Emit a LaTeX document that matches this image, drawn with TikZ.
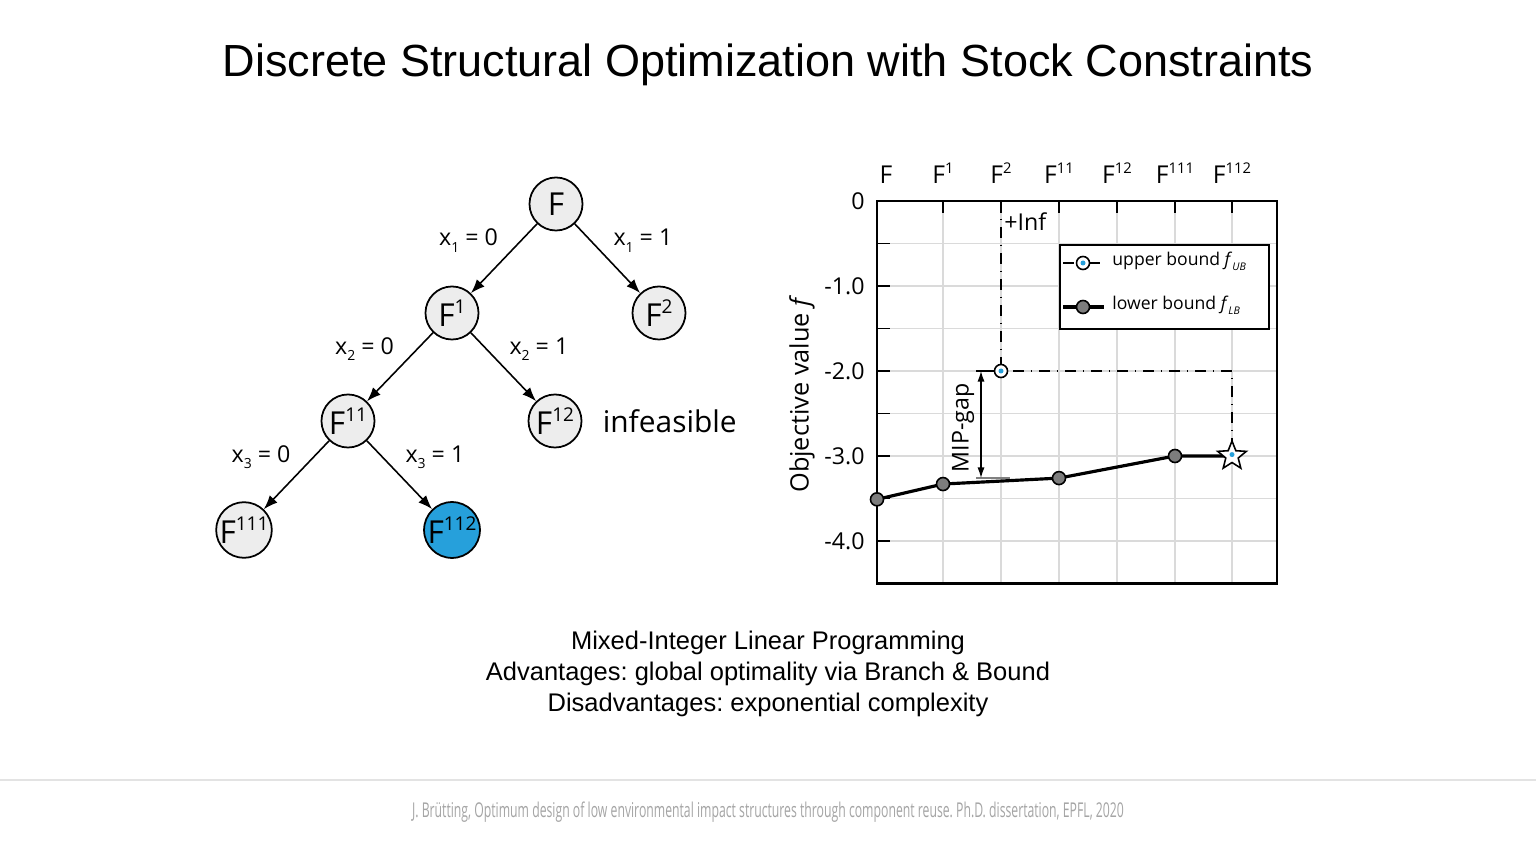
\documentclass[tikz,border=0pt]{standalone}
\usepackage{fontspec}
\usepackage{graphicx}
\setmainfont{Liberation Sans}
\newfontfamily\osans{Open Sans}
\newfontfamily\footfont[FakeStretch=0.6]{Open Sans}
\usetikzlibrary{arrows.meta, shapes.geometric, positioning, math}
\definecolor{myblue}{RGB}{38,160,219}
\definecolor{nodegray}{RGB}{237,237,237}
\definecolor{gridgray}{RGB}{218,218,218}
\definecolor{markgray}{RGB}{125,125,125}
\definecolor{footgray}{RGB}{165,165,165}
\newcommand{\supr}[1]{\raisebox{0.42em}{\scalebox{0.6}{#1}}}
\newcommand{\subr}[1]{\raisebox{-0.28em}{\scalebox{0.6}{#1}}}
\frenchspacing

\begin{document}
\begin{tikzpicture}[x=0.01cm, y=-0.01cm,
  treenode/.style={circle, draw, line width=0.5pt, fill=nodegray, minimum size=0.53cm, inner sep=0pt, font=\osans\fontsize{9}{9}\selectfont},
  branch/.style={-{Latex[length=4pt,width=3pt]}, line width=0.45pt},
  branchlab/.style={font=\osans\fontsize{6.6}{6.6}\selectfont, inner sep=1.5pt},
  gridline/.style={gridgray, line width=0.4pt},
  ubline/.style={dash dot, line width=0.45pt},
  lbline/.style={line width=0.9pt},
  ubmark/.style={circle, draw, line width=0.45pt, fill=white, minimum size=0.13cm, inner sep=0pt,
    path picture={\fill[myblue] (path picture bounding box.center) circle (0.025cm);}},
  starmark/.style={star, star points=5, star point ratio=2.3, draw, line width=0.45pt, fill=white, minimum size=0.3cm, inner sep=0pt,
    path picture={\fill[myblue] (path picture bounding box.center) circle (0.025cm);}},
  lbmark/.style={circle, draw, line width=0.45pt, fill=markgray, minimum size=0.13cm, inner sep=0pt},
  ticklab/.style={font=\osans\fontsize{6.6}{6.6}\selectfont},
  leglab/.style={font=\osans\fontsize{5}{5}\selectfont, anchor=west},
]
\tikzmath{
\yz=201;
\u=85;
}
\useasboundingbox[fill=white] (0,0) rectangle (1536,864);

% title
\node (title) [anchor=base, font=\fontsize{12.8}{12.8}\selectfont] at (768,77) {Discrete Structural Optimization with Stock Constraints};

% branch and bound tree
\node[treenode] (F) at (556,204) {F};
\node[treenode] (F1) at (452,313) {F\supr{1}};
\node[treenode] (F2) at (659,313) {F\supr{2}};
\node[treenode] (F11) at (348,421) {F\supr{11}};
\node[treenode] (F12) at (555,421) {F\supr{12}};
\node[treenode] (F111) at (244,530) {F\supr{111}};
\node[treenode, fill=myblue] (F112) at (452,530) {F\supr{112}};
\node (infeas) [right=0.08cm of F12, font=\osans\fontsize{8.5}{8.5}\selectfont] {infeasible};

\draw[branch] (F) -- (F1) node[branchlab, midway, anchor=south east] {x\subr{1} = 0};
\draw[branch] (F) -- (F2) node[branchlab, midway, anchor=south west] {x\subr{1} = 1};
\draw[branch] (F1) -- (F11) node[branchlab, midway, anchor=south east] {x\subr{2} = 0};
\draw[branch] (F1) -- (F12) node[branchlab, midway, anchor=south west] {x\subr{2} = 1};
\draw[branch] (F11) -- (F111) node[branchlab, midway, anchor=south east] {x\subr{3} = 0};
\draw[branch] (F11) -- (F112) node[branchlab, midway, anchor=south west] {x\subr{3} = 1};

% chart
\foreach \xc in {943,1001,1059,1117,1175,1232}
  \draw[gridline] (\xc,\yz) -- (\xc,583.5);
\foreach \v in {0.5,1,...,4}
  \draw[gridline] (877,{\yz+\v*\u}) -- (1277,{\yz+\v*\u});
\draw[line width=0.6pt] (877,\yz) rectangle (1277,583.5);
\foreach \xc in {943,1001,1059,1117,1175,1232}
  \draw[line width=0.5pt] (\xc,\yz) -- (\xc,{\yz+12});
\foreach \v in {0.5,1,...,4}
  \draw[line width=0.5pt] (877,{\yz+\v*\u}) -- (890,{\yz+\v*\u});

\foreach \xc/\lab [count=\i] in {886/F, 943/F\supr{1}, 1001/F\supr{2}, 1059/F\supr{11}, 1117/F\supr{12}, 1175/F\supr{111}, 1232/F\supr{112}}
  \node[ticklab, font=\osans\fontsize{7}{7}\selectfont, anchor=base] (cat\i) at (\xc,184) {\lab};
\foreach \v/\lab in {0/0, 1/-1.0, 2/-2.0, 3/-3.0, 4/-4.0}
  \node[ticklab, anchor=east] (ytick\v) at (877,{\yz+\v*\u}) {\lab};
\node[ticklab, font=\osans\fontsize{7.2}{7.2}\selectfont, rotate=90] (ylab) at (802,394) {Objective value \textit{f}};

% bounds
\coordinate (pF) at (877,{\yz+3.51*\u});
\coordinate (pF1) at (943,{\yz+3.33*\u});
\coordinate (pF11) at (1059,{\yz+3.26*\u});
\coordinate (pF111) at (1175,{\yz+3.0*\u});
\coordinate (pF112) at (1232,{\yz+3.0*\u});
\coordinate (ubtop) at (1001,\yz);
\coordinate (pF2) at (1001,{\yz+2*\u});
\coordinate (ubcorner) at (1232,{\yz+2*\u});

\draw[ubline] (ubtop) -- (pF2) -- (ubcorner) -- (pF112);
\draw[lbline] (pF) -- (pF1) -- (pF11) -- (pF111) -- (pF112);
\foreach \p in {pF,pF1,pF11,pF111}
  \node[lbmark] (m\p) at (\p) {};
\node[ubmark] (mpF2) at (pF2) {};
\node[starmark] (mpF112) at (pF112) {};
\node[ticklab, anchor=west] (inf) at (992,222) {+Inf};

% MIP gap
\coordinate (gaptop) at (981,{\yz+2*\u});
\coordinate (gapbot) at (981,478);
\coordinate (gaptopL) at (976,{\yz+2*\u});
\coordinate (gaptopR) at (995,{\yz+2*\u});
\coordinate (gapbotL) at (976,478);
\coordinate (gapbotR) at (1010,478);
\draw[line width=0.35pt] (gaptopL) -- (gaptopR);
\draw[line width=0.35pt, gray] (gapbotL) -- (gapbotR);
\draw[{Latex[length=3pt,width=2pt]}-{Latex[length=3pt,width=2pt]}, line width=0.35pt] (gaptop) -- (gapbot);
\node[ticklab, rotate=90] (gaplab) at (963,428) {MIP-gap};

% legend
\node[draw, fill=white, line width=0.6pt, minimum width=2.09cm, minimum height=0.84cm, anchor=north west, inner sep=0pt] (legend) at (1059,244) {};
\coordinate (lgA) at (1063,263);
\coordinate (lgB) at (1104,263);
\coordinate (lgC) at (1063,307);
\coordinate (lgD) at (1104,307);
\draw[ubline] (lgA) -- (lgB);
\draw[lbline] (lgC) -- (lgD);
\node[ubmark] (lgub) at (1083,263) {};
\node[lbmark] (lglb) at (1083,307) {};
\node[leglab] (lgubtxt) at (1100,261) {upper bound \textit{f}\subr{\textit{UB}}};
\node[leglab] (lglbtxt) at (1100,305) {lower bound \textit{f}\subr{\textit{LB}}};

% summary
\node (summary) [align=center, font=\fontsize{7.25}{8.8}\selectfont] at (768,674) {Mixed-Integer Linear Programming\\Advantages: global optimality via Branch \& Bound\\Disadvantages: exponential complexity};

% footer
\coordinate (footL) at (0,780);
\coordinate (footR) at (1536,780);
\draw[gray!22, line width=0.4pt] (footL) -- (footR);
\node[footgray, font=\footfont\fontsize{5.8}{5.8}\selectfont] (footer) at (768,812) {J. Brütting, Optimum design of low environmental impact structures through component reuse. Ph.D. dissertation, EPFL, 2020};
\end{tikzpicture}
\end{document}
